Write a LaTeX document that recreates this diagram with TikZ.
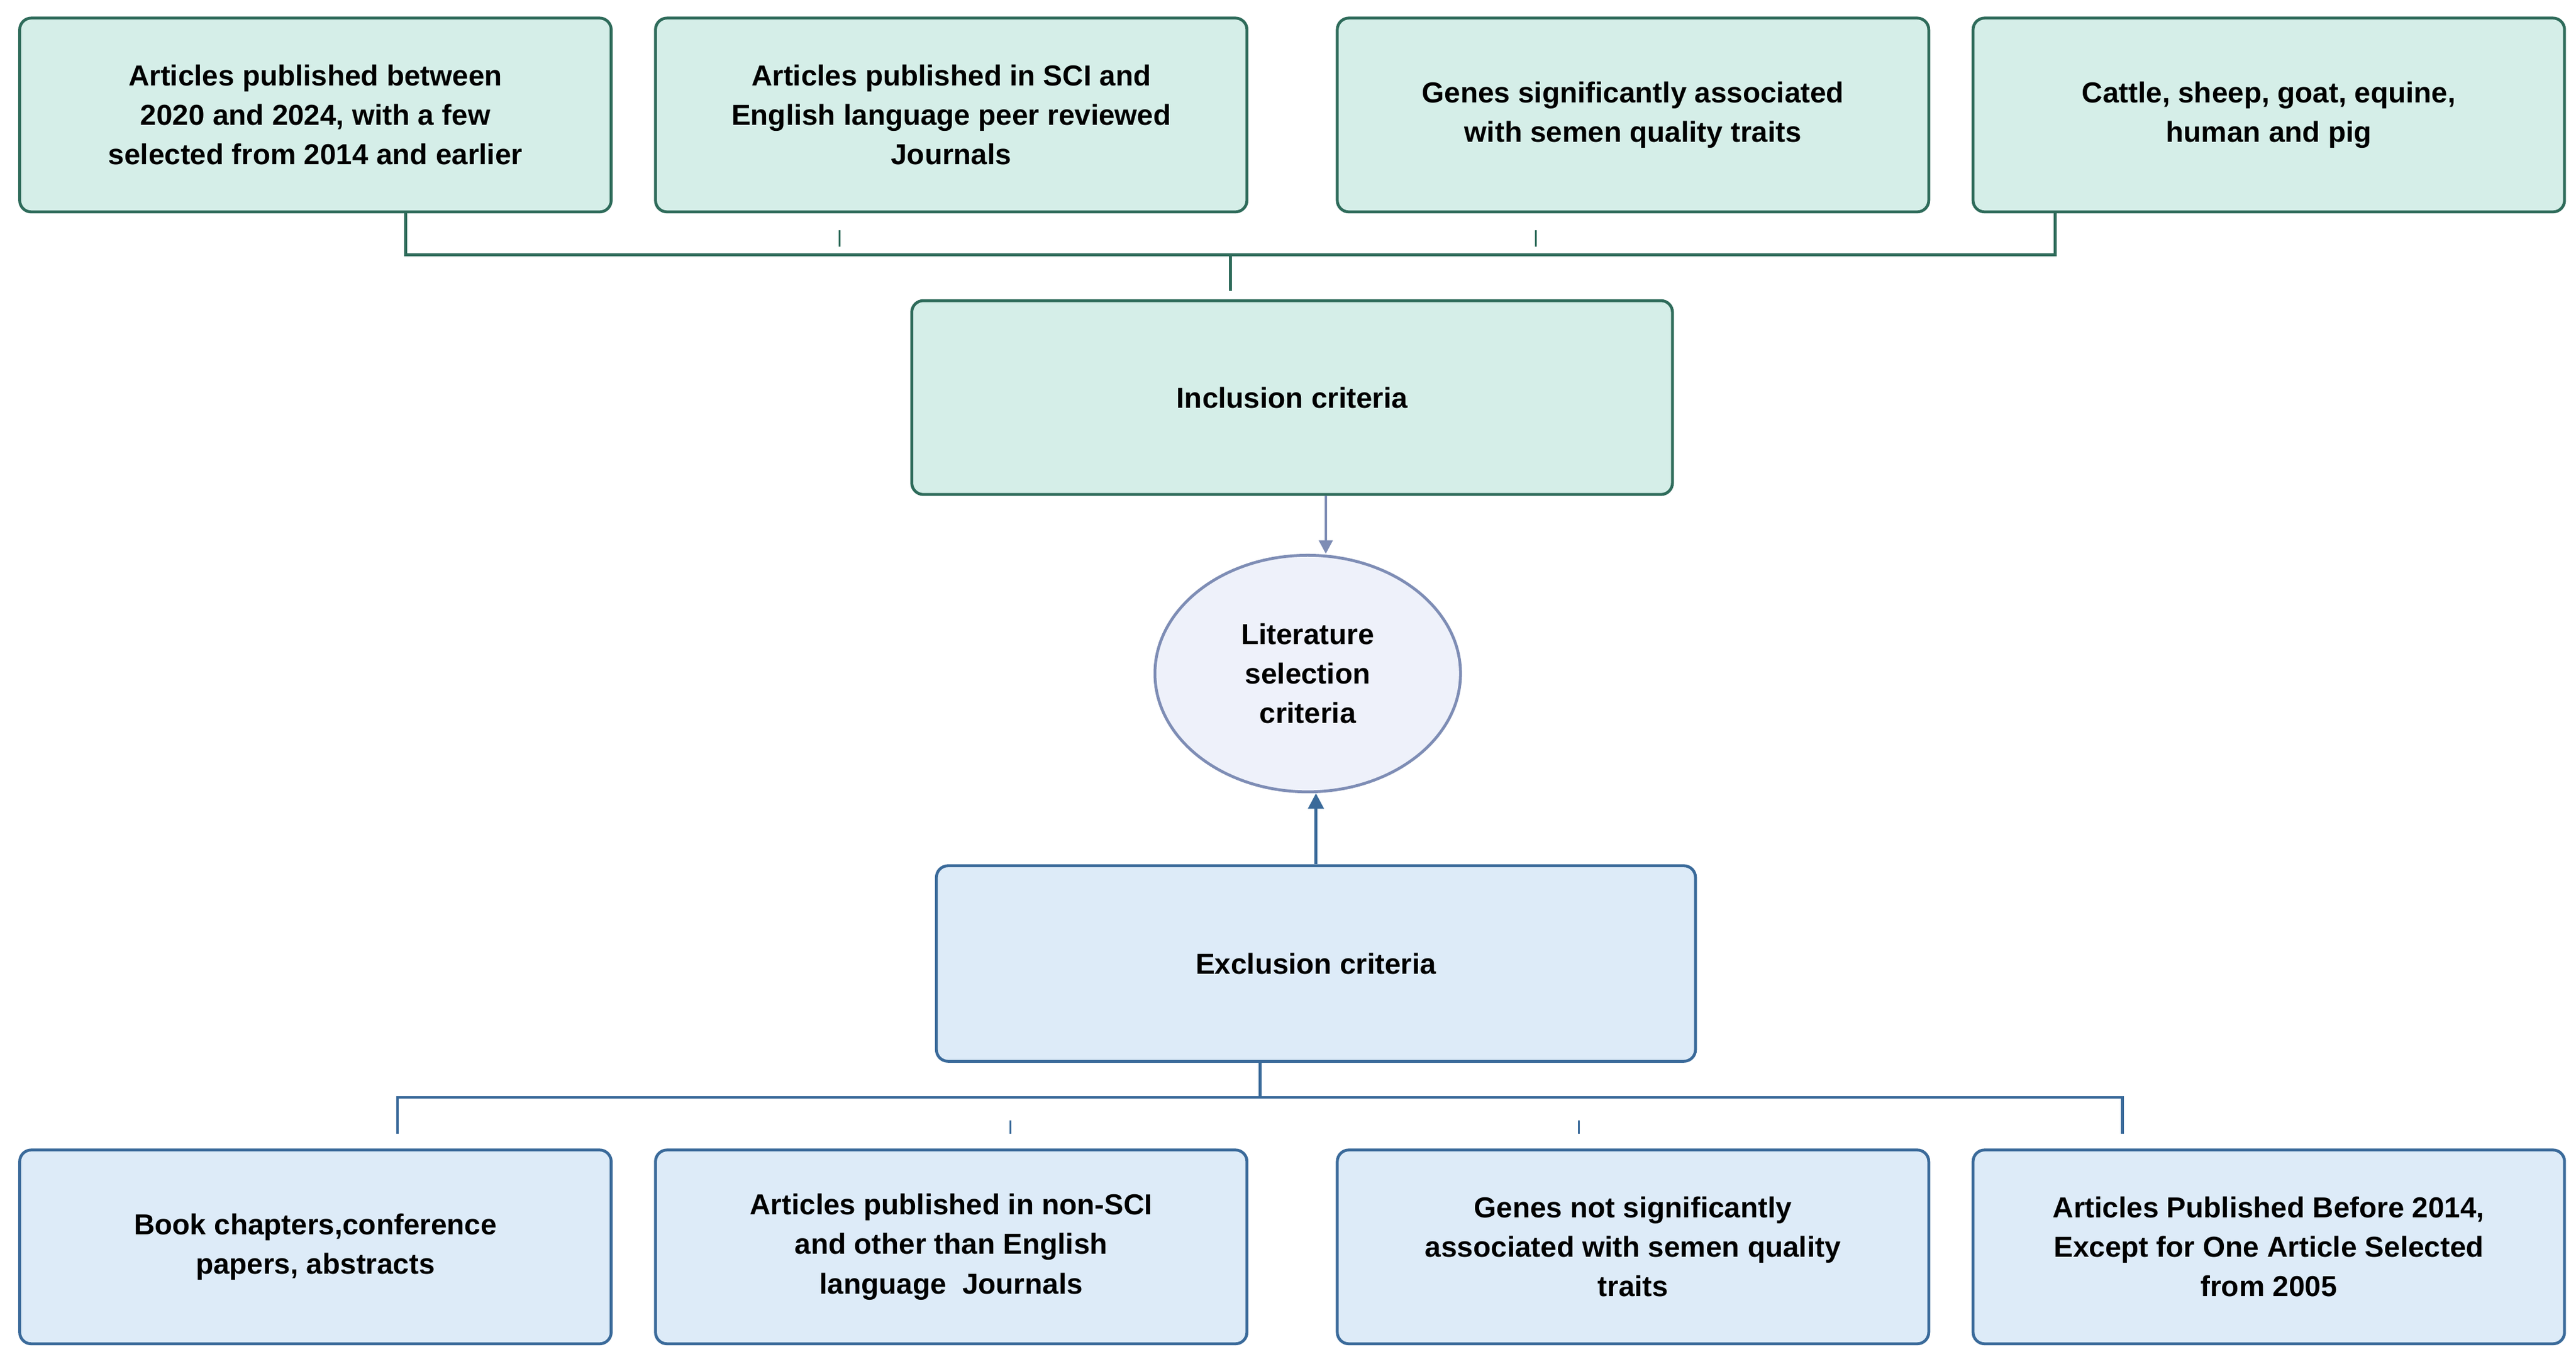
\documentclass[tikz,border=0pt]{standalone}
\usepackage{fontspec}
\setmainfont{Liberation Sans}
\usetikzlibrary{arrows.meta,shapes.geometric}
\definecolor{gfill}{HTML}{D5EEE8}\definecolor{gline}{HTML}{2E6B5A}
\definecolor{bfill}{HTML}{DDEBF8}\definecolor{bline}{HTML}{3A6A9A}
\definecolor{efill}{HTML}{EEF1FA}\definecolor{eline}{HTML}{7E8DB5}
\begin{document}
\begin{tikzpicture}[x=0.03cm,y=-0.03cm,
 txt/.style={font=\fontsize{15}{20.5}\selectfont\bfseries,align=center},
 gbox/.style={draw=gline,fill=gfill,line width=1.5pt,rounded corners=6pt,txt},
 bbox/.style={draw=bline,fill=bfill,line width=1.5pt,rounded corners=6pt,txt},
 gl/.style={draw=gline,line width=1.5pt},
 bl/.style={draw=bline,line width=1.5pt}]
\useasboundingbox[fill=white] (0,0) rectangle (1568,830);
% top row
\node[gbox,minimum width=10.8cm,minimum height=3.54cm] (t1) at (192,70) {Articles published between\\2020 and 2024, with a few\\selected from 2014 and earlier};
\node[gbox,minimum width=10.8cm,minimum height=3.54cm] (t2) at (579,70) {Articles published in SCI and\\English language peer reviewed\\Journals};
\node[gbox,minimum width=10.8cm,minimum height=3.54cm] (t3) at (994,70) {Genes significantly associated\\with semen quality traits};
\node[gbox,minimum width=10.8cm,minimum height=3.54cm] (t4) at (1381,70) {Cattle, sheep, goat, equine,\\human and pig};
\node[gbox,minimum width=13.89cm,minimum height=3.54cm] (inc) at (786.5,242) {Inclusion criteria};
\node[draw=eline,fill=efill,line width=1.5pt,ellipse,inner sep=0pt,minimum width=5.58cm,minimum height=4.32cm,txt] (lit) at (796,410) {Literature\\selection\\criteria};
\node[bbox,minimum width=13.86cm,minimum height=3.57cm] (exc) at (801,586.5) {Exclusion criteria};
\node[bbox,minimum width=10.8cm,minimum height=3.54cm] (b1) at (192,759) {Book chapters,conference\\papers, abstracts};
\node[bbox,minimum width=10.8cm,minimum height=3.54cm] (b2) at (579,759) {Articles published in non-SCI\\and other than English\\language\ \ Journals};
\node[bbox,minimum width=10.8cm,minimum height=3.54cm] (b3) at (994,759) {Genes not significantly\\associated with semen quality\\traits};
\node[bbox,minimum width=10.8cm,minimum height=3.54cm] (b4) at (1381,759) {Articles Published Before 2014,\\Except for One Article Selected\\from 2005};
% top connectors
\draw[gl] (t1.south -| 247,0) -- (247,155) -- (1251,155) -- (t4.south -| 1251,0);
\draw[gl] (749,155) -- (749,177);
\draw[gl,line width=1pt] (511,140) -- (511,150);
\draw[gl,line width=1pt] (935,140) -- (935,150);
\draw[draw=eline,line width=1.5pt,-{Triangle[length=7pt,width=7pt]}] (inc.south -| 807,0) -- (lit.north -| 807,0);
\draw[draw=bline,line width=1.5pt,-{Triangle[length=8pt,width=8pt]}] (exc.north -| 801,0) -- (lit.south -| 801,0);
% bottom connectors
\draw[bl] (exc.south -| 767,0) -- (767,668);
\draw[bl] (242,690) -- (242,668) -- (1292,668) -- (1292,690);
\draw[bl,line width=1pt] (615,682) -- (615,690);
\draw[bl,line width=1pt] (961,682) -- (961,690);
\end{tikzpicture}
\end{document}
